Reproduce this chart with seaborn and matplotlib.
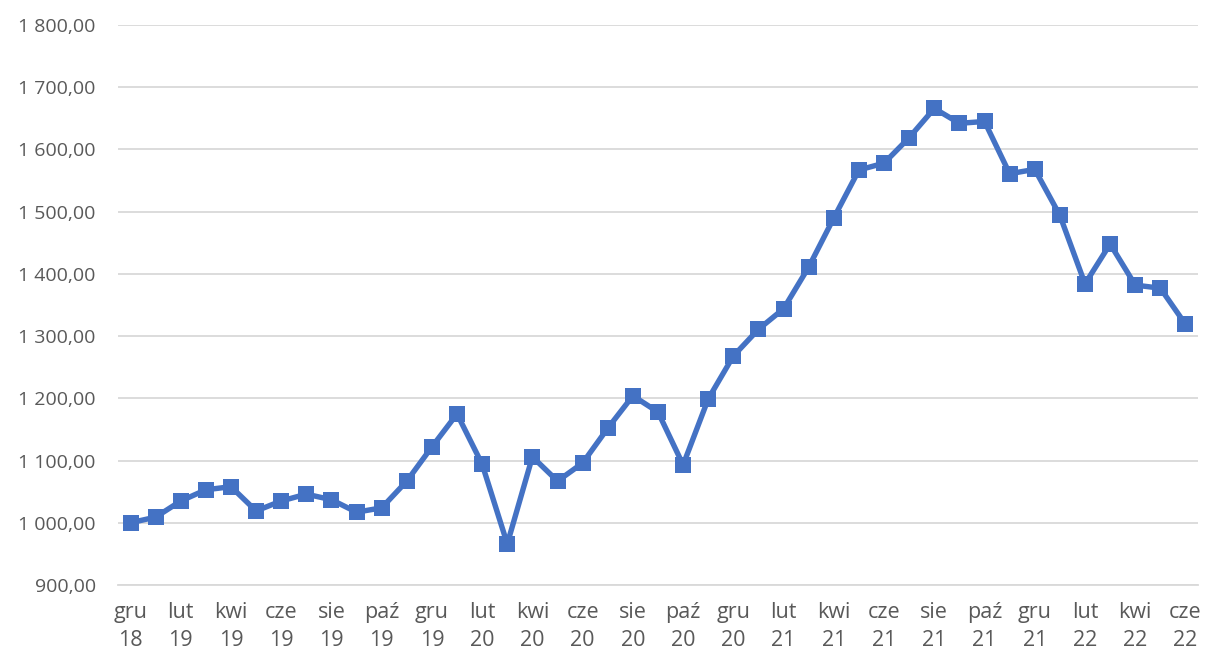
import numpy as np
import pandas as pd
import seaborn as sns
import matplotlib.pyplot as plt
from matplotlib.ticker import FuncFormatter, FixedLocator

# monthly values, gru 2018 - cze 2022
months = ['gru', 'sty', 'lut', 'mar', 'kwi', 'maj', 'cze', 'lip', 'sie', 'wrz', 'paź', 'lis']
years = [18] + [19] * 12 + [20] * 12 + [21] * 12 + [22] * 6
values = [1000, 1009, 1035, 1053, 1058, 1019, 1035, 1046, 1037, 1017, 1024,
          1067, 1122, 1175, 1094, 966, 1106, 1067, 1096, 1152, 1204, 1178,
          1093, 1199, 1268, 1311, 1344, 1411, 1490, 1567, 1578, 1619, 1666,
          1642, 1645, 1561, 1568, 1494, 1384, 1448, 1382, 1377, 1319]

labels = [f"{months[i % 12]}\n{years[i]}" for i in range(len(values))]
df = pd.DataFrame({'idx': range(len(values)), 'value': values, 'label': labels})

sns.set_style('white')
plt.rcParams['font.family'] = ['Open Sans', 'DejaVu Sans']

fig = plt.figure(figsize=(12.06, 6.55), dpi=100)
ax = fig.add_axes([0.0978, 0.1069, 0.8956, 0.8549])

sns.lineplot(data=df, x='idx', y='value', ax=ax, color='#4472C4', linewidth=3.9,
             marker='s', markersize=11, markeredgewidth=0)

ax.set_xlim(-0.5, len(values) - 0.5)
ax.set_ylim(900, 1800)
ax.set_yticks(np.arange(900, 1801, 100))
ax.yaxis.set_major_formatter(FuncFormatter(
    lambda v, p: f"{v:,.2f}".replace(',', ' ').replace('.', ',')))
ax.grid(axis='y', color='#d9d9d9', linewidth=1.3)
ax.set_axisbelow(True)

ax.set_xticks(df['idx'][::2])
ax.set_xticklabels(df['label'][::2])
ax.xaxis.set_minor_locator(FixedLocator(np.arange(-0.5, len(values) - 1, 2)))
ax.tick_params(axis='x', which='major', length=0, pad=12, labelsize=15.5,
               labelcolor='#595959')
ax.tick_params(axis='x', which='minor', length=7, width=1.3, color='#d9d9d9',
               direction='out')
ax.tick_params(axis='y', length=0, pad=16, labelsize=14, labelcolor='#595959')
for lab in ax.get_xticklabels():
    lab.set_linespacing(1.45)

for s in ['top', 'right', 'left']:
    ax.spines[s].set_visible(False)
ax.spines['bottom'].set_color('#d9d9d9')
ax.spines['bottom'].set_linewidth(1.3)
ax.set_xlabel('')
ax.set_ylabel('')

fig.savefig('out.png', dpi=100)
